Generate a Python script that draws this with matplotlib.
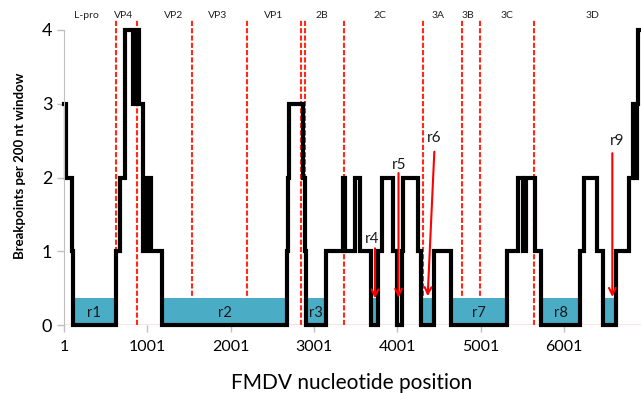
import matplotlib.pyplot as plt

# genome regions (label, boundary after it)
region_labels = ["L-pro", "VP4", "VP2", "VP3", "VP1", "2B", "2C", "3A", "3B", "3C", "3D"]
label_pos = [265, 721, 1313, 1841, 2521, 3093, 3797, 4489, 4853, 5317, 6337]
boundaries = [621, 877, 1533, 2201, 2841, 2893, 3361, 4313, 4781, 4997, 5641]

# breakpoint density (step function, value holds until next position)
step_x = [1, 25, 97, 109, 627, 667, 733, 829, 865, 901, 943, 997, 1045, 1177,
          2681, 2689, 2697, 2873, 2893, 2905, 3145, 3349, 3377, 3493, 3547,
          3685, 3773, 3813, 3953, 3993, 4053, 4073, 4253, 4281, 4445, 4645,
          5321, 5453, 5505, 5545, 5653, 5725, 6193, 6241, 6401, 6473, 6625,
          6777, 6833, 6853, 6877, 6895, 6925]
step_y = [3, 2, 1, 0, 1, 2, 4, 3, 4, 3, 1, 2, 1, 0,
          1, 2, 3, 2, 1, 0, 1, 2, 1, 2, 1,
          0, 1, 2, 1, 0, 1, 2, 1, 0, 1, 0,
          1, 2, 1, 2, 1, 0, 1, 2, 1, 0, 1,
          2, 3, 2, 3, 4, 4]

# cold-spot regions shown as blue bars
bar_names = ["r1", "r2", "r3", "r4", "r6", "r7", "r8", "r9"]
bar_start = [125, 1201, 2929, 3709, 4305, 4669, 5749, 6497]
bar_end = [600, 2657, 3121, 3749, 4421, 5297, 6169, 6601]
bar_height = 0.37
inner_labels = ["r1", "r2", "r3", "r7", "r8"]

# arrow-annotated regions: label xy, arrow tail, arrow head
arrow_names = ["r4", "r5", "r6", "r9"]
arrow_text = [(3697, 1.16), (4025, 2.17), (4441, 2.53), (6633, 2.49)]
arrow_tail = [(3733, 1.04), (4015, 2.06), (4445, 2.35), (6581, 2.33)]
arrow_head = [(3733, 0.36), (4015, 0.37), (4365, 0.39), (6581, 0.38)]

xticks = [1, 1001, 2001, 3001, 4001, 5001, 6001]
yticks = [0, 1, 2, 3, 4]

plt.rcParams['font.family'] = ['Lato', 'DejaVu Sans']

fig = plt.figure(figsize=(6.41, 3.93), dpi=100)
ax = fig.add_axes([64 / 641, 68 / 393, 577 / 641, 295 / 393])

for b in boundaries:
    ax.plot([b, b], [0, 4.15], color="#ff2a1a", lw=1.5, ls=(0, (2.5, 1)),
            clip_on=False, zorder=1)
for lab, p in zip(region_labels, label_pos):
    ax.text(p, 4.2, lab, ha="center", va="center", fontsize=7.5, color="#222222")

for name, s, e in zip(bar_names, bar_start, bar_end):
    ax.bar(s, bar_height, width=e - s, align="edge", color="#4bacc6", zorder=1.5)
    if name in inner_labels:
        ax.text((s + e) / 2, 0.16, name, ha="center", va="center", fontsize=10.5,
                color="#1a1a1a", zorder=5)

ax.axhline(0, color="#f07a70", lw=1, zorder=1.8)
ax.plot(step_x, step_y, drawstyle="steps-post", color="black", lw=3,
        solid_joinstyle="miter", clip_on=False, zorder=2)

for name, t, tail, head in zip(arrow_names, arrow_text, arrow_tail, arrow_head):
    ax.annotate("", xy=head, xytext=tail,
                arrowprops=dict(arrowstyle="->", color="red", lw=1.5,
                                mutation_scale=12, shrinkA=0, shrinkB=0),
                zorder=4)
    ax.text(t[0], t[1], name, ha="center", va="center", fontsize=11, color="#1a1a1a")

ax.set_xlim(1, 6925)
ax.set_ylim(0, 4)
ax.set_xticks(xticks)
ax.set_xticklabels([str(v) for v in xticks], fontsize=11.5)
ax.set_yticks(yticks)
ax.set_yticklabels([str(v) for v in yticks], fontsize=13)
ax.tick_params(axis="both", color="#bfbfbf", length=5, width=1, direction="out")
ax.tick_params(axis="x", pad=6)
for side in ["top", "right", "bottom"]:
    ax.spines[side].set_visible(False)
ax.spines["left"].set_color("#bfbfbf")

fig.text(352 / 641, 1 - 383 / 393, "FMDV nucleotide position", ha="center",
         va="center", fontsize=15)
fig.text(20 / 641, 1 - 166 / 393, "Breakpoints per 200 nt window", rotation=90,
         ha="center", va="center", fontsize=9.5, fontweight="bold")

fig.savefig("out.png", dpi=100)
